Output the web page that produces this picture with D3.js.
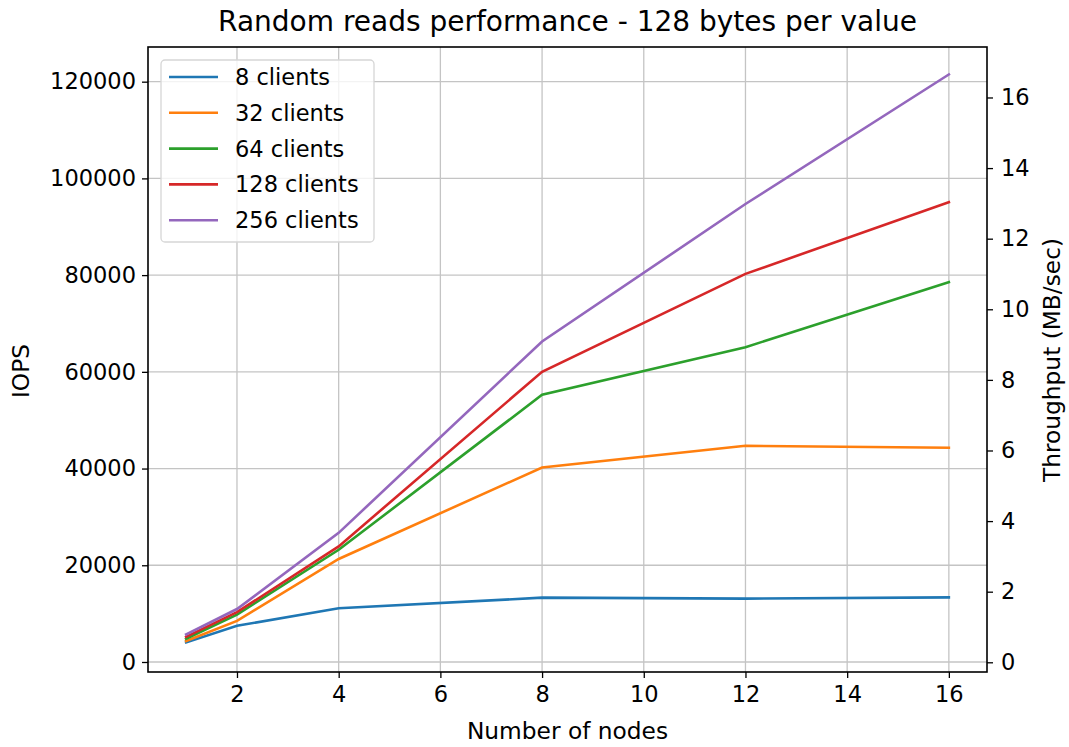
<!DOCTYPE html>
<html><head><meta charset="utf-8">
<script src="https://cdn.jsdelivr.net/npm/d3@7"></script>
<style>body{margin:0;background:#fff}text{font-family:"DejaVu Sans",sans-serif;fill:#000}</style>
</head><body><svg id="c" width="1069" height="747"></svg>
<script>
const nodes = [1, 2, 4, 8, 12, 16];
const seriesNames = ["8 clients", "32 clients", "64 clients", "128 clients", "256 clients"];
const clients8 = [4050, 7500, 11100, 13300, 13100, 13350];
const clients32 = [4350, 8500, 21300, 40220, 44700, 44300];
const clients64 = [4800, 9800, 23200, 55250, 65100, 78540];
const clients128 = [5200, 10300, 23900, 60000, 80260, 95080];
const clients256 = [5700, 10950, 26700, 66270, 94700, 121500];
const xTicks = [2, 4, 6, 8, 10, 12, 14, 16];
const yTicks = [0, 20000, 40000, 60000, 80000, 100000, 120000];
const y2Ticks = [0, 2, 4, 6, 8, 10, 12, 14, 16];
const colors = ["#1f77b4", "#ff7f0e", "#2ca02c", "#d62728", "#9467bd"];

const seriesValues = [clients8, clients32, clients64, clients128, clients256];
const W = 1069, H = 747;
const m = {left: 148, right: 82, top: 47, bottom: 75};
const iw = W - m.left - m.right, ih = H - m.top - m.bottom;
const svg = d3.select("#c");
const g = svg.append("g").attr("transform", `translate(${m.left},${m.top})`);
const x = d3.scaleLinear().domain([0.25, 16.75]).range([0, iw]);
const y = d3.scaleLinear().domain([-2070, 127170]).range([ih, 0]);
const y2 = d3.scaleLinear().domain([-0.275, 17.43]).range([ih, 0]);

// grid
g.append("g").selectAll("line").data(xTicks).join("line")
  .attr("x1", d => x(d)).attr("x2", d => x(d)).attr("y1", 0).attr("y2", ih)
  .attr("stroke", "#c4c4c4").attr("stroke-width", 1.3);
g.append("g").selectAll("line").data(yTicks).join("line")
  .attr("y1", d => y(d)).attr("y2", d => y(d)).attr("x1", 0).attr("x2", iw)
  .attr("stroke", "#c4c4c4").attr("stroke-width", 1.3);

// lines
const line = d3.line().x((d, i) => x(nodes[i])).y(d => y(d));
seriesValues.forEach((vals, k) => {
  g.append("path").datum(vals).attr("d", line).attr("fill", "none")
    .attr("stroke", colors[k]).attr("stroke-width", 2.6).attr("stroke-linecap", "square");
});

// axes
const fs = 22.5;
function styleAxis(sel) {
  sel.select(".domain").remove();
  sel.selectAll(".tick line").attr("stroke", "#000").attr("stroke-width", 1.3);
  sel.selectAll(".tick text").attr("font-size", fs).attr("font-family", "DejaVu Sans").attr("fill", "#000");
}
g.append("g").attr("transform", `translate(0,${ih})`)
  .call(d3.axisBottom(x).tickValues(xTicks).tickSize(6).tickPadding(8).tickFormat(d3.format("d")))
  .call(styleAxis);
g.append("g")
  .call(d3.axisLeft(y).tickValues(yTicks).tickSize(6).tickPadding(6).tickFormat(d3.format("d")))
  .call(styleAxis);
g.append("g").attr("transform", `translate(${iw},0)`)
  .call(d3.axisRight(y2).tickValues(y2Ticks).tickSize(6).tickPadding(8).tickFormat(d3.format("d")))
  .call(styleAxis);

// spines
g.append("rect").attr("x", 0).attr("y", 0).attr("width", iw).attr("height", ih)
  .attr("fill", "none").attr("stroke", "#000").attr("stroke-width", 1.6);

// titles
svg.append("text").attr("x", m.left + iw / 2).attr("y", 31).attr("text-anchor", "middle")
  .attr("font-size", 28).text("Random reads performance - 128 bytes per value");
svg.append("text").attr("x", m.left + iw / 2).attr("y", 739).attr("text-anchor", "middle")
  .attr("font-size", 23.3).text("Number of nodes");
svg.append("text").attr("transform", "translate(29,371) rotate(-90)").attr("text-anchor", "middle")
  .attr("font-size", 23.3).text("IOPS");
svg.append("text").attr("transform", "translate(1060,360) rotate(-90)").attr("text-anchor", "middle")
  .attr("font-size", 23.3).text("Throughput (MB/sec)");

// legend
const lg = svg.append("g").attr("transform", "translate(161,60)");
lg.append("rect").attr("width", 213).attr("height", 182).attr("rx", 4)
  .attr("fill", "#fff").attr("fill-opacity", 0.8).attr("stroke", "#d6d6d6").attr("stroke-width", 1.3);
seriesNames.forEach((name, k) => {
  const yy = 17 + k * 35.8;
  lg.append("line").attr("x1", 8).attr("x2", 57).attr("y1", yy).attr("y2", yy)
    .attr("stroke", colors[k]).attr("stroke-width", 2.6);
  lg.append("text").attr("x", 74).attr("y", yy + 8).attr("font-size", fs).text(name);
});
</script></body></html>
